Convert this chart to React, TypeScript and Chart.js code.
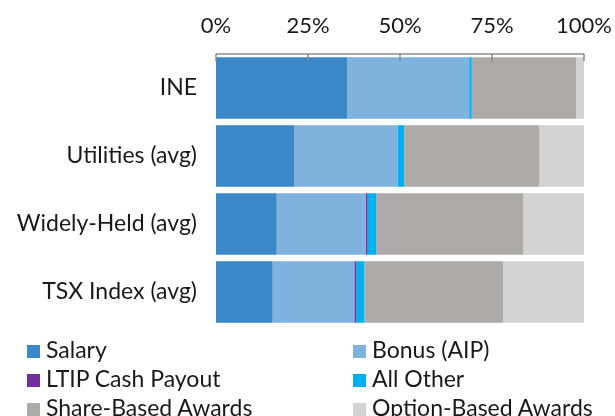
import React, { useEffect, useRef } from "react";
import { Chart, registerables } from "chart.js";

Chart.register(...registerables);

const categories = ["INE", "Utilities (avg)", "Widely-Held (avg)", "TSX Index (avg)"];
const seriesNames = ["Salary", "Bonus (AIP)", "LTIP Cash Payout", "All Other", "Share-Based Awards", "Option-Based Awards"];
const salary = [35.7, 21.2, 16.5, 15.4];
const bonus = [33.1, 28.1, 24.2, 22.2];
const ltip = [0, 0, 0.5, 0.5];
const allOther = [0.7, 1.8, 2.3, 2.2];
const shareBased = [28.4, 36.8, 40.0, 37.7];
const optionBased = [2.1, 12.1, 16.5, 22.0];
const tickValues = [0, 25, 50, 75, 100];
const colors = ["#3b88c9", "#7fb2dc", "#7030a0", "#00b0f0", "#aeaaaa", "#d3d3d3"];

const FONT = "Lato, 'Noto Sans', sans-serif";

const insideTicks = {
  id: "insideTicks",
  afterDatasetsDraw(chart: any) {
    const { ctx, chartArea, scales } = chart;
    const x = scales.x;
    const y0 = chartArea.top;
    ctx.save();
    ctx.strokeStyle = "#8a8a8a";
    ctx.lineWidth = 1.5;
    ctx.beginPath();
    ctx.moveTo(x.getPixelForValue(0), y0);
    ctx.lineTo(x.getPixelForValue(100), y0);
    tickValues.forEach((v) => {
      const px = x.getPixelForValue(v);
      ctx.moveTo(px, y0);
      ctx.lineTo(px, y0 + 7);
    });
    ctx.stroke();
    ctx.restore();
  },
};

export default function App() {
  const canvasRef = useRef<HTMLCanvasElement>(null);
  useEffect(() => {
    document.body.style.margin = "0";
    const series = [salary, bonus, ltip, allOther, shareBased, optionBased];
    const chart = new Chart(canvasRef.current!, {
      type: "bar",
      data: {
        labels: categories,
        datasets: series.map((d, i) => ({
          label: seriesNames[i],
          data: d,
          backgroundColor: colors[i],
          borderWidth: 0,
          barPercentage: 1,
          categoryPercentage: 0.905,
        })),
      },
      options: {
        indexAxis: "y",
        animation: false,
        responsive: false,
        layout: { padding: { top: 0, right: 31, bottom: 90, left: 0 } },
        plugins: { legend: { display: false }, tooltip: { enabled: false } },
        scales: {
          x: {
            position: "top",
            stacked: true,
            min: 0,
            max: 100,
            afterBuildTicks(scale: any) {
              scale.ticks = tickValues.map((v) => ({ value: v }));
            },
            afterFit(scale: any) {
              scale.height = 54;
              scale.paddingLeft = 0;
              scale.paddingRight = 0;
            },
            grid: { display: false, drawTicks: false },
            border: { display: false },
            ticks: {
              padding: 15,
              color: "#1a1a1a",
              font: { family: FONT, size: 22 },
              callback: (v: any) => v + "%",
              maxRotation: 0,
            },
          },
          y: {
            stacked: true,
            afterFit(scale: any) {
              scale.width = 216;
              scale.paddingTop = 0;
              scale.paddingBottom = 0;
            },
            grid: { display: false, drawTicks: false },
            border: { display: false },
            ticks: {
              padding: 19,
              color: "#1a1a1a",
              font: { family: FONT, size: 23 },
            },
          },
        },
      },
      plugins: [insideTicks],
    });
    return () => chart.destroy();
  }, []);

  const legendPos = [
    { left: 27, top: 335 },
    { left: 353, top: 335 },
    { left: 27, top: 364 },
    { left: 353, top: 364 },
    { left: 27, top: 393 },
    { left: 353, top: 393 },
  ];

  return (
    <div style={{ position: "relative", width: 615, height: 416, overflow: "hidden", background: "#fff" }}>
      <canvas ref={canvasRef} width={615} height={416} style={{ display: "block" }} />
      {seriesNames.map((name, i) => (
        <div
          key={name}
          style={{
            position: "absolute",
            left: legendPos[i].left,
            top: legendPos[i].top,
            height: 29,
            lineHeight: "29px",
            fontFamily: FONT,
            fontSize: 23,
            color: "#1a1a1a",
            whiteSpace: "nowrap",
            display: "flex",
            alignItems: "center",
          }}
        >
          <span
            style={{
              display: "inline-block",
              width: 13,
              height: 13,
              background: colors[i],
              marginRight: 6,
              marginTop: 3,
            }}
          />
          <span>{name}</span>
        </div>
      ))}
    </div>
  );
}
